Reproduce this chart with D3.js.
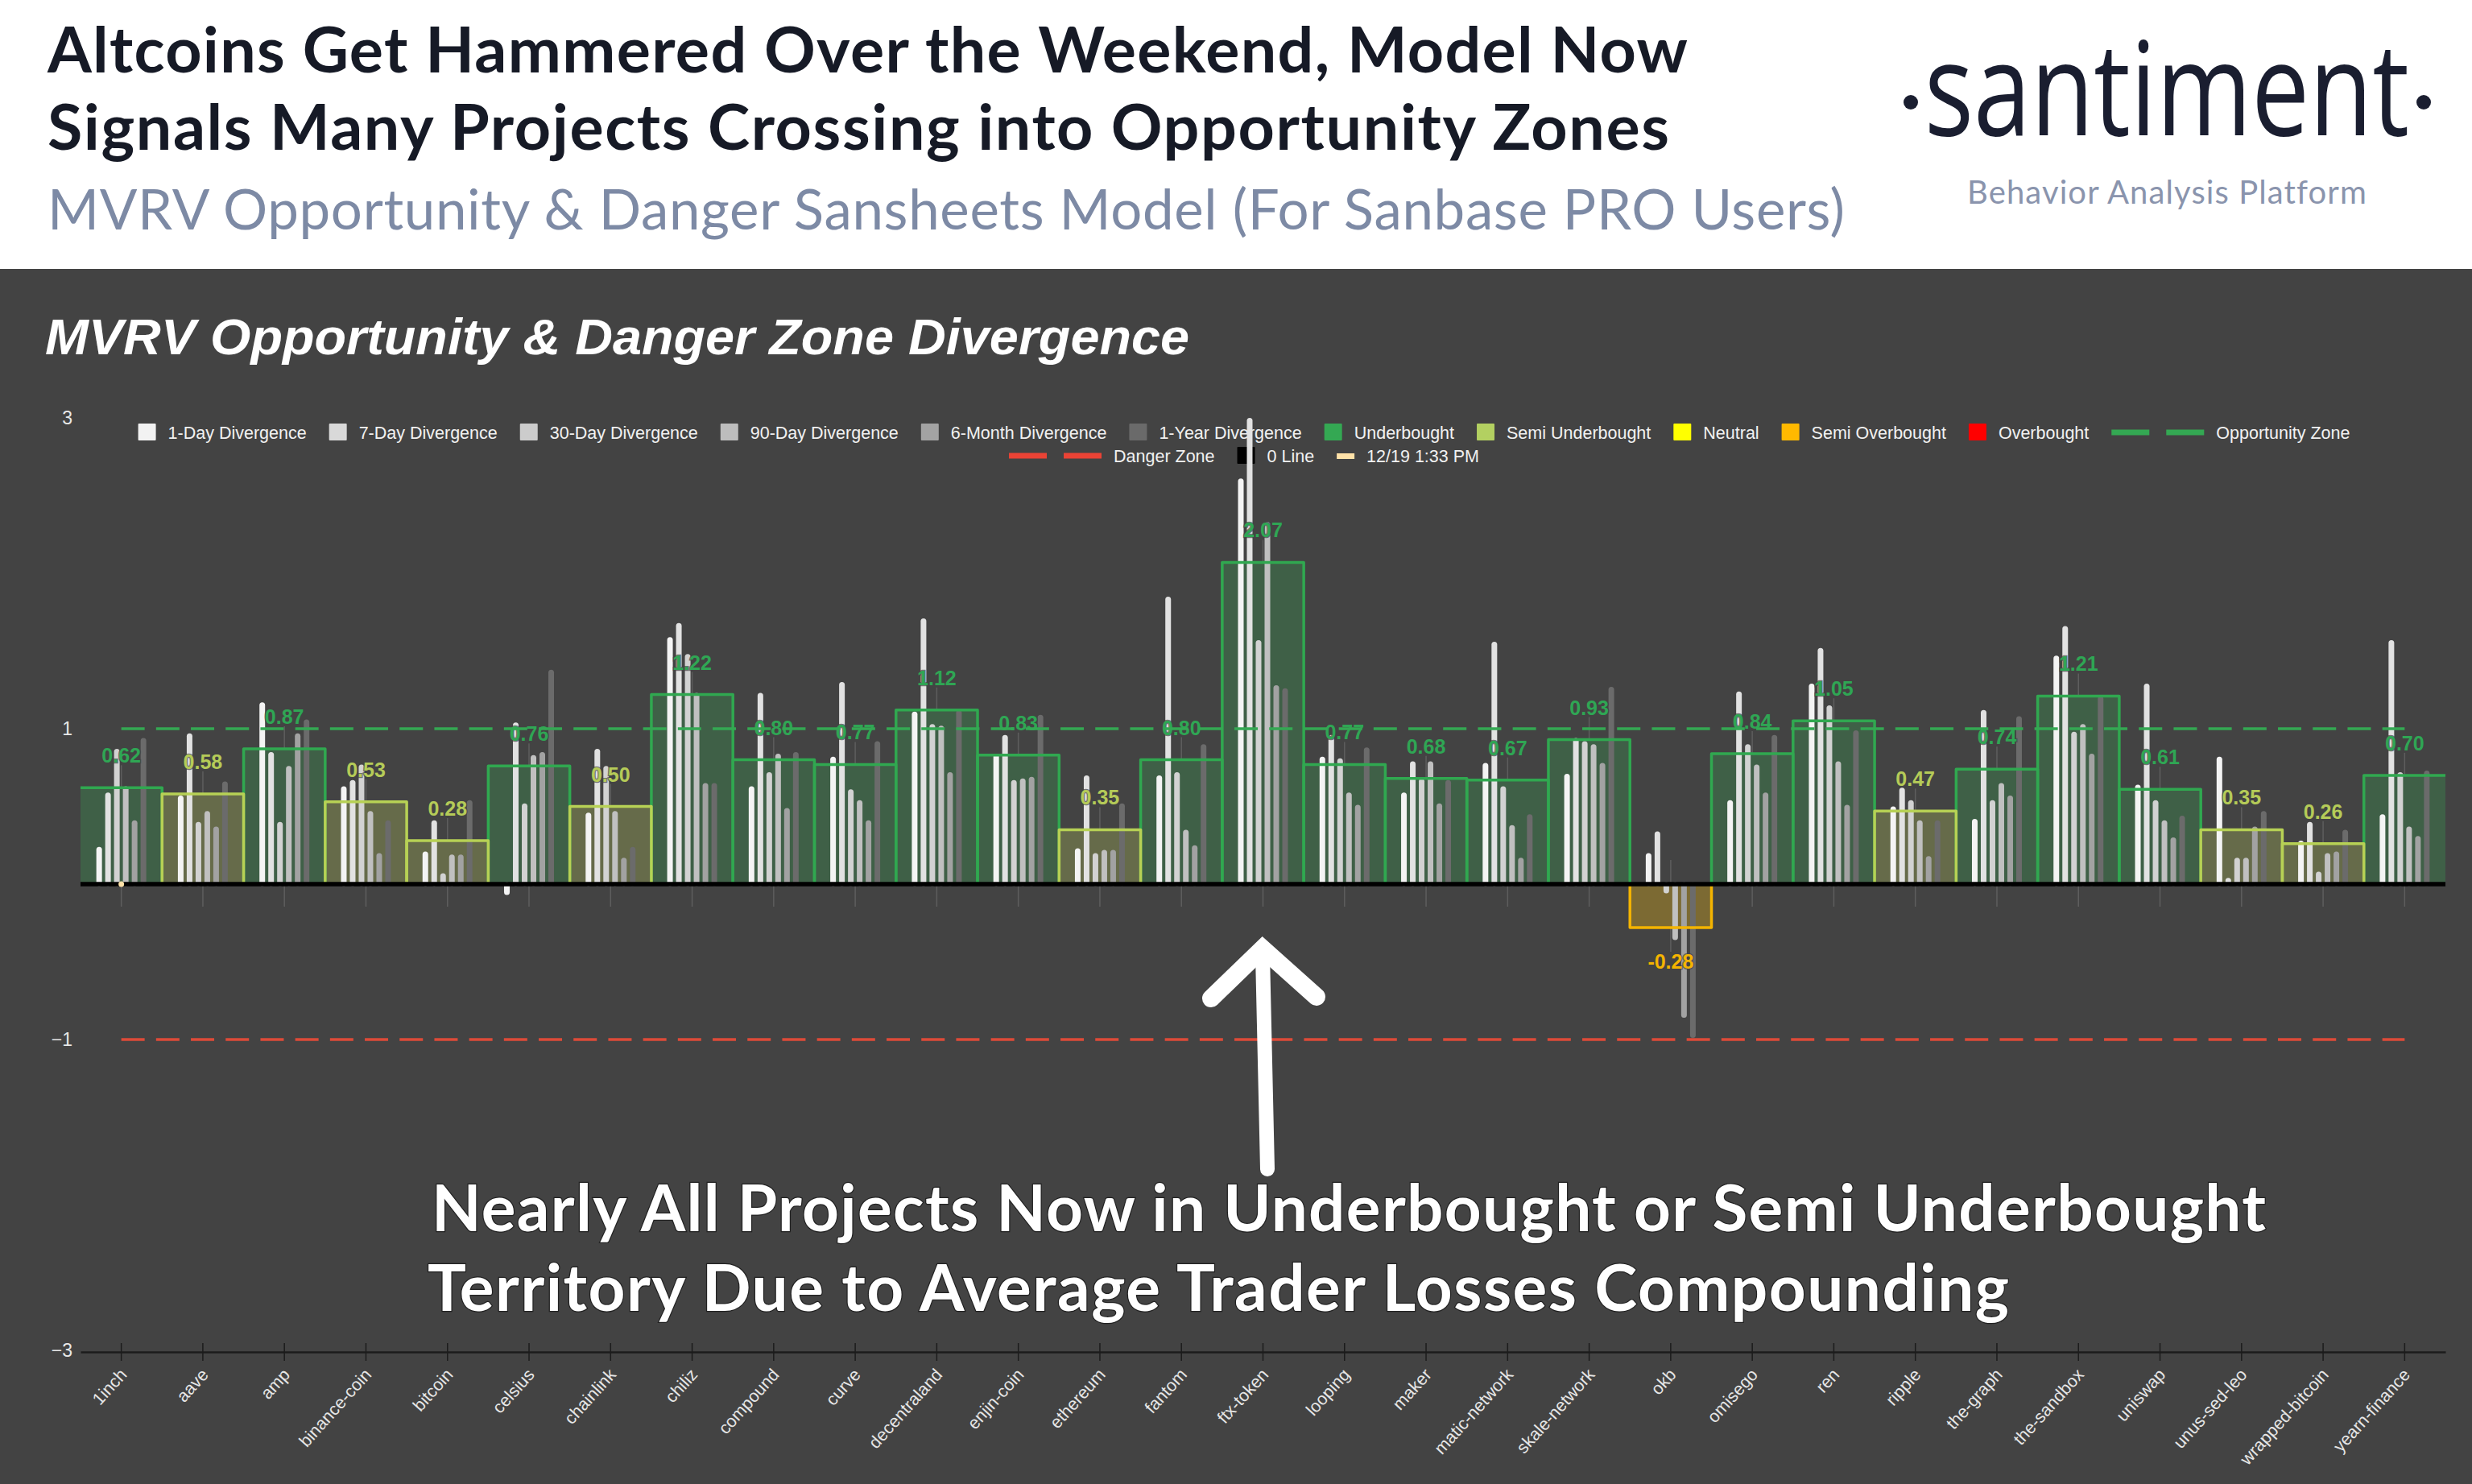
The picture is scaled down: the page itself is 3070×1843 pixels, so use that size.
<!DOCTYPE html>
<html>
<head>
<meta charset="utf-8">
<title>MVRV Opportunity & Danger Zone Divergence</title>
<script src="https://cdn.jsdelivr.net/npm/d3@7"></script>
<style>
  html, body { margin: 0; padding: 0; background: #fff; }
  svg { display: block; }
</style>
</head>
<body>
<svg id="chart" width="3070" height="1843"></svg>
<script>
const categories = ['1inch', 'aave', 'amp', 'binance-coin', 'bitcoin', 'celsius', 'chainlink', 'chiliz', 'compound', 'curve',
  'decentraland', 'enjin-coin', 'ethereum', 'fantom', 'ftx-token', 'looping', 'maker', 'matic-network', 'skale-network', 'okb',
  'omisego', 'ren', 'ripple', 'the-graph', 'the-sandbox', 'uniswap', 'unus-sed-leo', 'wrapped-bitcoin', 'yearn-finance'];

const day1 = [0.24, 0.57, 1.17, 0.63, 0.21, -0.07, 0.46, 1.59, 0.63, 0.82, 1.11, 0.84, 0.23, 0.70, 2.61, 0.82, 0.59, 0.78, 0.71, 0.20, 0.54, 1.29, 0.50, 0.42, 1.47, 0.64, 0.82, 0.28, 0.45];
const day7 = [0.59, 0.97, 0.85, 0.67, 0.41, 1.04, 0.87, 1.68, 1.23, 1.30, 1.71, 0.96, 0.70, 1.85, 3.00, 0.96, 0.79, 1.56, 0.94, 0.34, 1.24, 1.52, 0.62, 1.12, 1.66, 1.29, 0.04, 0.40, 1.57];
const day30 = [0.87, 0.40, 0.40, 0.77, 0.07, 0.52, 0.76, 1.48, 0.72, 0.61, 1.03, 0.67, 0.20, 0.72, 1.57, 0.81, 0.68, 0.63, 0.92, -0.06, 0.90, 1.15, 0.54, 0.54, 0.98, 0.54, 0.17, 0.08, 0.72];
const day90 = [0.63, 0.47, 0.76, 0.47, 0.19, 0.83, 0.47, 1.23, 0.84, 0.54, 1.02, 0.68, 0.22, 0.35, 2.33, 0.59, 0.79, 0.38, 0.90, -0.36, 0.77, 0.79, 0.41, 0.65, 1.03, 0.41, 0.17, 0.20, 0.37];
const month6 = [0.41, 0.37, 0.97, 0.20, 0.19, 0.85, 0.17, 0.65, 0.49, 0.41, 0.72, 0.69, 0.22, 0.25, 1.28, 0.51, 0.52, 0.17, 0.78, -0.86, 0.59, 0.51, 0.18, 0.57, 0.84, 0.30, 0.37, 0.21, 0.31];
const year1 = [0.94, 0.66, 1.06, 0.41, 0.54, 1.38, 0.24, 0.65, 0.85, 0.92, 1.12, 1.09, 0.52, 0.90, 1.26, 0.88, 0.67, 0.45, 1.27, -0.99, 0.96, 0.99, 0.41, 1.08, 1.21, 0.44, 0.47, 0.35, 0.73];

const divergenceSeries = [day1, day7, day30, day90, month6, year1];
const divergenceColors = ['#f4f4f4', '#e2e2e2', '#d2d2d2', '#c0c0c0', '#a2a2a2', '#6b6b6b'];

const averages = [0.62, 0.58, 0.87, 0.53, 0.28, 0.76, 0.50, 1.22, 0.80, 0.77, 1.12, 0.83, 0.35, 0.80, 2.07, 0.77, 0.68, 0.67, 0.93, -0.28, 0.84, 1.05, 0.47, 0.74, 1.21, 0.61, 0.35, 0.26, 0.70];

const yTicks = [3, 1, -1, -3];

const legendLabels = ['1-Day Divergence', '7-Day Divergence', '30-Day Divergence', '90-Day Divergence', '6-Month Divergence', '1-Year Divergence',
  'Underbought', 'Semi Underbought', 'Neutral', 'Semi Overbought', 'Overbought', 'Opportunity Zone', 'Danger Zone', '0 Line', '12/19 1:33 PM'];
const legendColors = ['#f2f2f2', '#d9d9d9', '#cccccc', '#bdbdbd', '#a3a3a3', '#6a6a6a',
  '#34a853', '#b3d061', '#ffff00', '#ffb900', '#ff0000', '#34a853', '#ea4335', '#000000', '#ffe2a8'];
const legendKinds = ['box', 'box', 'box', 'box', 'box', 'box', 'box', 'box', 'box', 'box', 'box', 'dash', 'dash', 'box', 'thin'];

const titleLines = ['Altcoins Get Hammered Over the Weekend, Model Now', 'Signals Many Projects Crossing into Opportunity Zones'];
const subtitle = 'MVRV Opportunity & Danger Sansheets Model (For Sanbase PRO Users)';
const noteLines = ['Nearly All Projects Now in Underbought or Semi Underbought', 'Territory Due to Average Trader Losses Compounding'];

const BG = '#434343';
const svg = d3.select('#chart');

// colours of a stepped box, picked from the zone its value falls in
function zoneOf(v) {
  if (v >= 0.6) return { name: 'under', stroke: '#30a850', fill: '#3f6047', text: '#2fa654' };
  if (v >= 0) return { name: 'semi', stroke: '#b7d155', fill: '#666b4a', text: '#b5cb58' };
  return { name: 'over', stroke: '#f4b400', fill: '#7c6a33', text: '#f4b400' };
}

// spread a text out to a target width with letter spacing
function fitWidth(node, width) {
  const natural = node.getComputedTextLength();
  const chars = node.textContent.length;
  d3.select(node).style('letter-spacing', `${(width - natural) / (chars - 1)}px`);
}

const x = d3.scaleBand().domain(categories).range([100, 3037]);
const y = d3.scaleLinear().domain([-3, 3]).range([1677, 519]);
const inner = d3.scaleBand().domain(d3.range(divergenceSeries.length)).range([-33, 33]);
const barWidth = 7;
const y0 = y(0);
const cx = d => x(d) + x.bandwidth() / 2;

// header
svg.append('rect').attr('width', 3070).attr('height', 334).attr('fill', '#fff');
svg.append('rect').attr('y', 334).attr('width', 3070).attr('height', 1509).attr('fill', BG);

const titleWidths = [2037, 2014];
svg.selectAll('text.title').data(titleLines).enter().append('text')
  .attr('class', 'title')
  .attr('x', 59)
  .attr('y', (d, i) => 90 + i * 96)
  .style('font', '700 79px Lato')
  .style('fill', '#161a26')
  .text(d => d)
  .each(function (d, i) { fitWidth(this, titleWidths[i]); });

svg.append('text')
  .attr('x', 59).attr('y', 285)
  .style('font', '400 69px Lato')
  .style('fill', '#7d8aa5')
  .text(subtitle)
  .each(function () { fitWidth(this, 2232); });

// logo
svg.append('text')
  .attr('x', 2390).attr('y', 168)
  .attr('textLength', 602).attr('lengthAdjust', 'spacingAndGlyphs')
  .style('font', '500 162px "Open Sans"')
  .style('fill', '#1a1e30')
  .text('santiment');
[2373, 3010].forEach(px => {
  svg.append('circle').attr('cx', px).attr('cy', 127).attr('r', 9).attr('fill', '#1a1e30');
});
svg.append('text')
  .attr('x', 2443).attr('y', 253)
  .style('font', '400 40px Lato')
  .style('fill', '#8a94ad')
  .text('Behavior Analysis Platform')
  .each(function () { fitWidth(this, 495); });

// chart title
svg.append('text')
  .attr('x', 56).attr('y', 440)
  .attr('textLength', 1421).attr('lengthAdjust', 'spacingAndGlyphs')
  .style('font', 'italic 700 63px "Liberation Sans"')
  .style('fill', '#fff')
  .text('MVRV Opportunity & Danger Zone Divergence');

// legend, two centred rows
function drawLegend(indexes, rowY) {
  const row = svg.append('g');
  let pos = 0;
  indexes.forEach(i => {
    const item = row.append('g').attr('transform', `translate(${pos},0)`);
    const kind = legendKinds[i];
    const keyWidth = kind === 'dash' ? 115 : 22;
    if (kind === 'box') {
      item.append('rect').attr('y', -11).attr('width', 22).attr('height', 21).attr('rx', 1).attr('fill', legendColors[i]);
    } else if (kind === 'thin') {
      item.append('rect').attr('y', -3).attr('width', 22).attr('height', 7).attr('fill', legendColors[i]);
    } else {
      item.append('line').attr('x1', 0).attr('x2', keyWidth).attr('stroke', legendColors[i])
        .attr('stroke-width', 7).attr('stroke-dasharray', '47 21');
    }
    const label = item.append('text')
      .attr('x', keyWidth + 15)
      .attr('dy', '0.35em')
      .style('font', '21.5px "Liberation Sans"')
      .style('fill', '#f1f1f1')
      .text(legendLabels[i]);
    pos += keyWidth + 15 + label.node().getComputedTextLength() + 28;
  });
  row.attr('transform', `translate(${1545 - (pos - 28) / 2},${rowY})`);
}
drawLegend(d3.range(0, 12), 537);
drawLegend(d3.range(12, 15), 566);

// axes
const yAxis = d3.axisLeft(y).tickValues(yTicks).tickFormat(d3.format('d')).tickSize(0).tickPadding(0);
const yG = svg.append('g').attr('transform', 'translate(90,0)').call(yAxis);
yG.select('.domain').remove();
yG.selectAll('text').style('font', '23px "Liberation Sans"').style('fill', '#e8e8e8');

const xAxis = d3.axisBottom(x).tickSizeInner(11).tickSizeOuter(0).tickPadding(0);
const xG = svg.append('g').attr('transform', `translate(0,${y(-3) + 2})`).call(xAxis);
xG.select('.domain').attr('stroke', '#1c1c1c').attr('stroke-width', 2.5);
xG.selectAll('.tick line').attr('y1', -11).attr('stroke', '#1c1c1c').attr('stroke-width', 1.5);
xG.selectAll('text')
  .attr('text-anchor', 'end')
  .attr('y', 0).attr('dy', 0)
  .attr('transform', 'translate(8,29) rotate(-48)')
  .style('font', '21.5px "Liberation Sans"')
  .style('fill', '#e6e6e6');

// faint leader from each label down past the zero line
svg.append('g').selectAll('line').data(categories).enter().append('line')
  .attr('x1', cx).attr('x2', cx)
  .attr('y1', (d, i) => averages[i] >= 0 ? y(averages[i]) - 28 : y0 - 30)
  .attr('y2', (d, i) => averages[i] >= 0 ? y0 + 28 : y(averages[i]) + 30)
  .attr('stroke', '#5e5e5e').attr('stroke-width', 1.5);

// stepped area: x of the edges between categories
const boxOrder = d3.range(categories.length).sort((a, b) => {
  const rank = v => (v >= 0.6 ? 0 : v >= 0 ? 1 : 2);
  return rank(averages[a]) - rank(averages[b]);
});
const boxPath = i => {
  const left = x(categories[i]);
  const right = left + x.bandwidth();
  const top = y(averages[i]);
  const first = i === 0;
  const last = i === categories.length - 1;
  return `M${left},${first ? top : y0}V${top}H${right}${last ? '' : `V${y0}`}`;
};

svg.append('g').selectAll('rect').data(categories).enter().append('rect')
  .attr('x', d => x(d))
  .attr('width', x.bandwidth())
  .attr('y', (d, i) => Math.min(y(averages[i]), y0))
  .attr('height', (d, i) => Math.abs(y(averages[i]) - y0))
  .attr('fill', (d, i) => zoneOf(averages[i]).fill);

// divergence bars
divergenceSeries.forEach((series, s) => {
  svg.append('g').selectAll('rect').data(series).enter().append('rect')
    .attr('x', (d, i) => cx(categories[i]) + inner(s) + inner.bandwidth() / 2 - barWidth / 2)
    .attr('width', barWidth)
    .attr('y', d => d >= 0 ? y(d) : y0 - 2.5)
    .attr('height', d => Math.abs(y(d) - y0) + 2.5)
    .attr('rx', 3.5)
    .attr('fill', divergenceColors[s]);
});

svg.append('g').selectAll('path').data(boxOrder).enter().append('path')
  .attr('d', boxPath)
  .attr('fill', 'none')
  .attr('stroke', i => zoneOf(averages[i]).stroke)
  .attr('stroke-width', 3.5)
  .attr('stroke-linejoin', 'round');

// value labels
svg.append('g').selectAll('text').data(averages).enter().append('text')
  .attr('x', (d, i) => cx(categories[i]))
  .attr('y', d => d >= 0 ? y(d) - 31 : y(d) + 51)
  .attr('text-anchor', 'middle')
  .style('font', '700 25px "Liberation Sans"')
  .style('fill', d => zoneOf(d).text)
  .style('stroke', BG).style('stroke-width', 2.5).style('stroke-opacity', 0.7)
  .style('paint-order', 'stroke')
  .text(d => d.toFixed(2));

// opportunity / danger lines
[[1, '#34a853'], [-1, '#dd4b39']].forEach(([v, color]) => {
  svg.append('line')
    .attr('x1', cx(categories[0])).attr('x2', cx(categories[categories.length - 1]))
    .attr('y1', y(v)).attr('y2', y(v))
    .attr('stroke', color).attr('stroke-width', 3.5).attr('stroke-dasharray', '29 14.2');
});

// zero line and the single time marker on it
svg.append('line')
  .attr('x1', x.range()[0]).attr('x2', x.range()[1])
  .attr('y1', y0).attr('y2', y0)
  .attr('stroke', '#000').attr('stroke-width', 5.5);
svg.append('circle')
  .attr('cx', cx(categories[0])).attr('cy', y0).attr('r', 3.5).attr('fill', '#ffe2a8');

// annotation arrow and text
const arrow = d3.line();
svg.append('path')
  .attr('d', arrow([[1574, 1452], [1568, 1185]]))
  .attr('fill', 'none').attr('stroke', '#fff').attr('stroke-width', 18).attr('stroke-linecap', 'round');
svg.append('path')
  .attr('d', arrow([[1504, 1240], [1568, 1178], [1635, 1238]]))
  .attr('fill', 'none').attr('stroke', '#fff').attr('stroke-width', 22)
  .attr('stroke-linecap', 'round').attr('stroke-linejoin', 'miter');

const noteX = [536, 531];
const noteWidths = [2278, 1964];
svg.selectAll('text.note').data(noteLines).enter().append('text')
  .attr('class', 'note')
  .attr('x', (d, i) => noteX[i])
  .attr('y', (d, i) => 1529 + i * 99)
  .style('font', '700 80px Lato')
  .style('fill', '#fff')
  .style('stroke', '#222').style('stroke-width', 2.5).style('paint-order', 'stroke')
  .text(d => d)
  .each(function (d, i) { fitWidth(this, noteWidths[i]); });
</script>
</body>
</html>
